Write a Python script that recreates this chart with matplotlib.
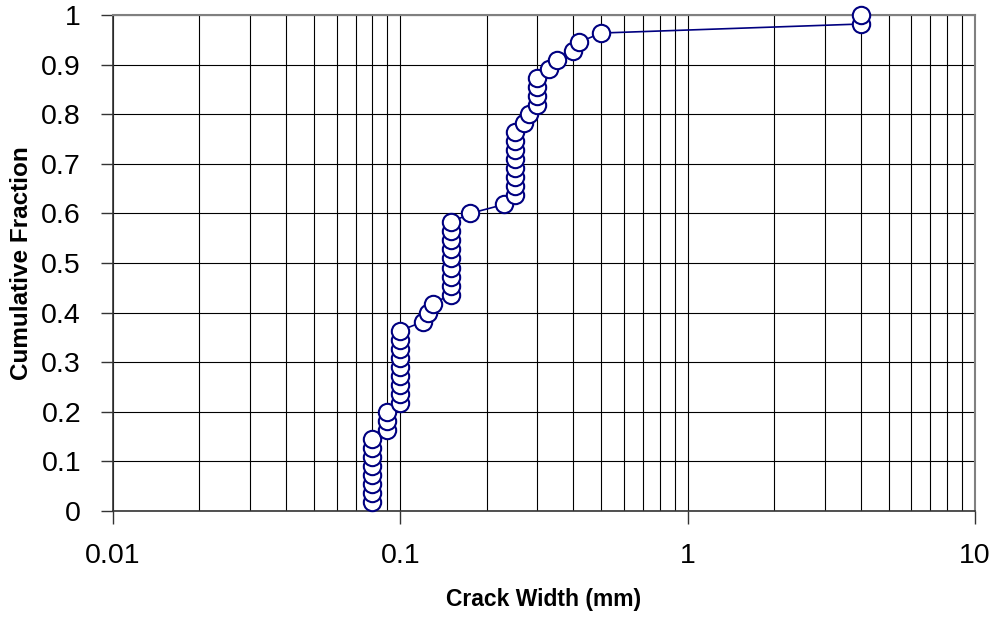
import matplotlib
matplotlib.use('Agg')
import matplotlib.pyplot as plt
from matplotlib.ticker import LogLocator, FixedLocator, NullFormatter
import numpy as np

# Crack widths (mm), sorted; cumulative fraction is rank / N
crack_width = [0.08, 0.08, 0.08, 0.08, 0.08, 0.08, 0.08, 0.08,
               0.09, 0.09, 0.09,
               0.1, 0.1, 0.1, 0.1, 0.1, 0.1, 0.1, 0.1, 0.1,
               0.12, 0.125, 0.13,
               0.15, 0.15, 0.15, 0.15, 0.15, 0.15, 0.15, 0.15, 0.15,
               0.175, 0.23,
               0.25, 0.25, 0.25, 0.25, 0.25, 0.25, 0.25, 0.25,
               0.27, 0.28,
               0.3, 0.3, 0.3, 0.3,
               0.33, 0.35, 0.4, 0.42, 0.5, 4.0, 4.0]
n = len(crack_width)
cum_frac = [(i + 1) / n for i in range(n)]

x_ticks = [0.01, 0.1, 1, 10]
x_tick_labels = ['0.01', '0.1', '1', '10']
y_ticks = [0, 0.1, 0.2, 0.3, 0.4, 0.5, 0.6, 0.7, 0.8, 0.9, 1]
y_tick_labels = ['0', '0.1', '0.2', '0.3', '0.4', '0.5', '0.6', '0.7', '0.8', '0.9', '1']

plt.rcParams['font.family'] = ['Liberation Sans', 'DejaVu Sans']

fig = plt.figure(figsize=(9.97, 6.22), dpi=100)
ax = fig.add_axes([113 / 997, 1 - 511 / 622, (975 - 113) / 997, (511 - 15) / 622])

ax.plot(crack_width, cum_frac, color='#000080', lw=1.2, marker='o', ms=12.5,
        markerfacecolor='white', markeredgecolor='#000080', markeredgewidth=1.5,
        clip_on=False, zorder=3)

ax.set_xscale('log')
ax.set_xlim(0.01, 10)
ax.set_ylim(0, 1)

ax.xaxis.set_major_locator(FixedLocator(x_ticks))
ax.set_xticklabels(x_tick_labels)
ax.xaxis.set_minor_locator(LogLocator(base=10, subs=np.arange(2, 10)))
ax.xaxis.set_minor_formatter(NullFormatter())
ax.set_yticks(y_ticks)
ax.set_yticklabels(y_tick_labels)

# gridlines: decades, minor log lines and every 0.1 in y
ax.grid(True, which='major', color='black', lw=0.8)
ax.grid(True, which='minor', axis='x', color='black', lw=0.8)
ax.tick_params(axis='both', which='major', direction='out', length=9, width=1,
               labelsize=20.5, pad=14, color='#333333')
ax.tick_params(axis='x', which='minor', length=0)

for side in ['top', 'right']:
    ax.spines[side].set_color('#808080')
    ax.spines[side].set_linewidth(1.5)
for side in ['left', 'bottom']:
    ax.spines[side].set_color('#333333')
    ax.spines[side].set_linewidth(1.2)

ax.set_xlabel('Crack Width (mm)', fontsize=16.5, fontweight='bold')
ax.set_ylabel('Cumulative Fraction', fontsize=17.5, fontweight='bold')
ax.xaxis.set_label_coords(0.5, -0.155)
ax.yaxis.set_label_coords(-0.093, 0.5)

fig.savefig('out.png', dpi=100)
